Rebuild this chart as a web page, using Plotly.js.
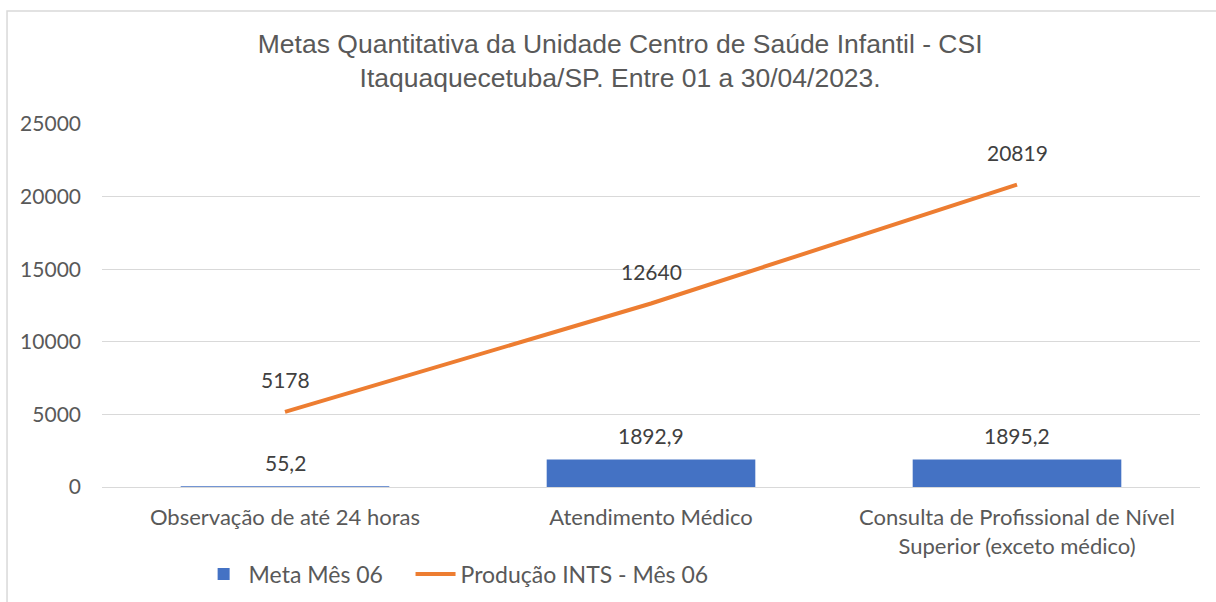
<!DOCTYPE html>
<html>
<head>
<meta charset="utf-8">
<script src="https://cdn.plot.ly/plotly-3.0.1.min.js"></script>
<style>
  body { margin: 0; background: #fff; }
  #chart { width: 1216px; height: 602px; }
</style>
</head>
<body>
<div id="chart"></div>
<script>
const categories = ["Observação de até 24 horas", "Atendimento Médico", "Consulta de Profissional de Nível<br>Superior (exceto médico)"];
const meta = [55.2, 1892.9, 1895.2];
const producao = [5178, 12640, 20819];
const yTicks = [0, 5000, 10000, 15000, 20000, 25000];

function fmt(v){ // comma as decimal mark, like the original
    return String(v).replace(".", ",");
}

var labelFont = {family: "Lato, 'Open Sans', sans-serif", size: 21, color: "#404040"};
var annotations = [];
for (let i = 0; i < categories.length; i++) {
    annotations.push({x: categories[i], y: meta[i], text: fmt(meta[i]), showarrow: false,
        yshift: 24, font: labelFont});
    annotations.push({x: categories[i], y: producao[i], text: fmt(producao[i]), showarrow: false,
        yshift: 32, font: labelFont});
}

var data = [
    {x: categories, y: meta, type: "bar", name: "Meta Mês 06", legend: "legend",
     marker: {color: "#4472C4"}, hoverinfo: "none"},
    {x: categories, y: producao, type: "scatter", mode: "lines", name: "Produção INTS - Mês 06", legend: "legend2",
     line: {color: "#ED7D31", width: 4}, hoverinfo: "none"}
];

var legendFont = {size: 23, color: "#595959"};
var layout = {
    width: 1216, height: 602,
    margin: {l: 102, r: 16, t: 124, b: 115, autoexpand: false},
    paper_bgcolor: "#fff", plot_bgcolor: "#fff",
    font: {family: "Lato, 'Open Sans', sans-serif", size: 21, color: "#595959"},
    title: {text: "Metas Quantitativa da Unidade Centro de Saúde Infantil - CSI<br>Itaquaquecetuba/SP. Entre 01 a 30/04/2023.",
        x: 0.51, xref: "container", y: 0.912, yref: "container", yanchor: "top",
        font: {family: "'Liberation Sans', Arial, sans-serif", size: 26.5, color: "#595959"}},
    bargap: 0.43,
    xaxis: {showgrid: false, showline: false, zeroline: false, ticks: "", tickangle: 0,
        ticklabelstandoff: 15, tickfont: {size: 22, color: "#595959"}, automargin: false},
    yaxis: {range: [0, 25000], tickvals: yTicks, ticktext: yTicks.map(String),
        showgrid: true, gridcolor: "#d9d9d9", gridwidth: 1, zeroline: true, zerolinecolor: "#d9d9d9",
        showline: false, ticks: "", ticklabelstandoff: 20, tickfont: {size: 21, color: "#595959"}, automargin: false},
    legend: {orientation: "h", x: 0.088, xanchor: "left", y: -0.24, yanchor: "middle",
        font: legendFont, itemwidth: 40},
    legend2: {orientation: "h", x: 0.281, xanchor: "left", y: -0.24, yanchor: "middle",
        font: legendFont, itemwidth: 40},
    annotations: annotations,
    shapes: [{type: "rect", xref: "paper", yref: "paper",
        x0: -0.0865, x1: 1.05, y0: -0.4, y1: 1.311,
        line: {color: "#d9d9d9", width: 1.5}, fillcolor: "rgba(0,0,0,0)", layer: "below"}],
    showlegend: true
};

Plotly.newPlot("chart", data, layout, {displayModeBar: false, staticPlot: true});
</script>
</body>
</html>
